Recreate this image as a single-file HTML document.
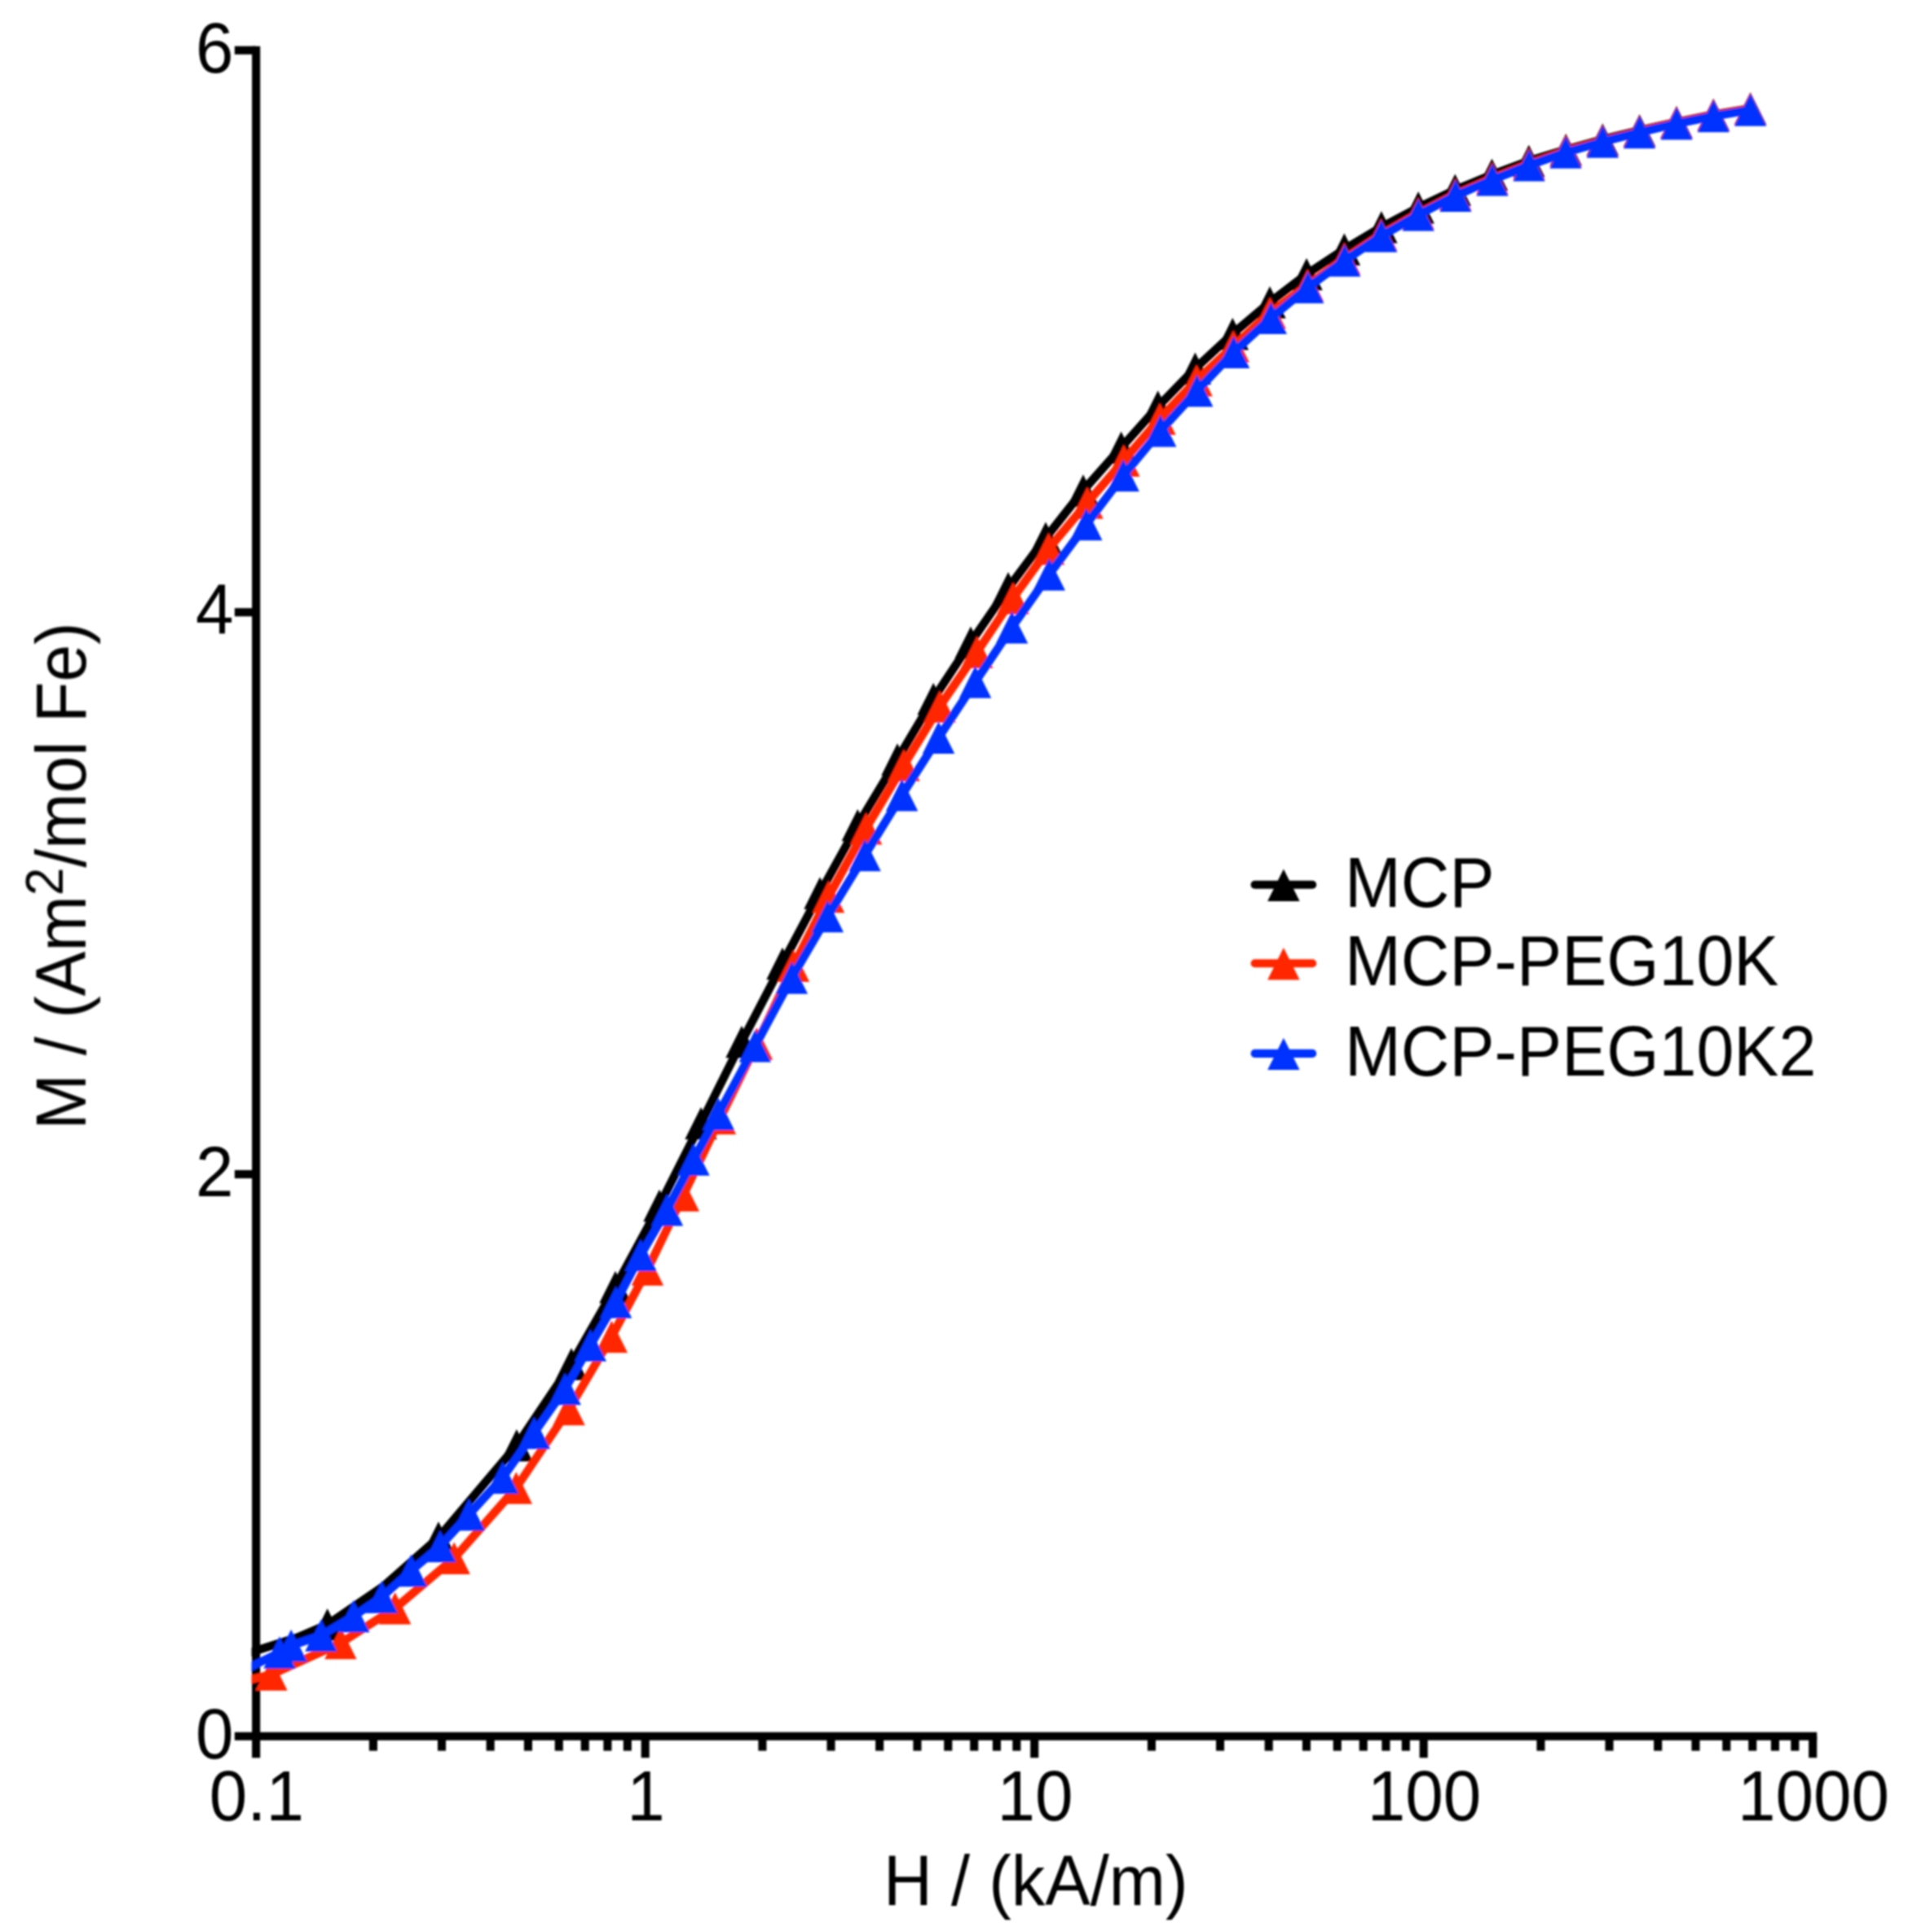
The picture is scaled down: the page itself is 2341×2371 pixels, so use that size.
<!DOCTYPE html>
<html lang="en"><head><meta charset="utf-8"><title>Magnetization curve</title>
<style>
html,body{margin:0;padding:0;background:#fff}
body{width:2341px;height:2371px;overflow:hidden}
svg{display:block}
text{font-family:"Liberation Sans",sans-serif;fill:#000}
</style></head><body>
<svg width="2341" height="2371" viewBox="0 0 2341 2371">
<defs><filter id="soft" x="0" y="0" width="2341" height="2371" filterUnits="userSpaceOnUse"><feGaussianBlur stdDeviation="0.85"/></filter><clipPath id="plot"><rect x="308.6" y="0" width="2100" height="2371"/></clipPath></defs>
<rect width="2341" height="2371" fill="#fff"/>
<g filter="url(#soft)">

<g stroke="#000" stroke-width="10.1" fill="none" stroke-linecap="butt">
<path d="M314.2,56.65V2157.2"/>
<path d="M287.9,2130.7H2229.25"/>
<path d="M287.9,1441.03H314.2"/>
<path d="M287.9,751.37H314.2"/>
<path d="M287.9,61.70H314.2"/>
<path d="M457.94,2130.7V2148.6"/>
<path d="M542.03,2130.7V2148.6"/>
<path d="M601.68,2130.7V2148.6"/>
<path d="M647.96,2130.7V2148.6"/>
<path d="M685.77,2130.7V2148.6"/>
<path d="M717.73,2130.7V2148.6"/>
<path d="M745.43,2130.7V2148.6"/>
<path d="M769.85,2130.7V2148.6"/>
<path d="M935.44,2130.7V2148.6"/>
<path d="M1019.53,2130.7V2148.6"/>
<path d="M1079.18,2130.7V2148.6"/>
<path d="M1125.46,2130.7V2148.6"/>
<path d="M1163.27,2130.7V2148.6"/>
<path d="M1195.23,2130.7V2148.6"/>
<path d="M1222.93,2130.7V2148.6"/>
<path d="M1247.35,2130.7V2148.6"/>
<path d="M1412.94,2130.7V2148.6"/>
<path d="M1497.03,2130.7V2148.6"/>
<path d="M1556.68,2130.7V2148.6"/>
<path d="M1602.96,2130.7V2148.6"/>
<path d="M1640.77,2130.7V2148.6"/>
<path d="M1672.73,2130.7V2148.6"/>
<path d="M1700.43,2130.7V2148.6"/>
<path d="M1724.85,2130.7V2148.6"/>
<path d="M1890.44,2130.7V2148.6"/>
<path d="M1974.53,2130.7V2148.6"/>
<path d="M2034.18,2130.7V2148.6"/>
<path d="M2080.46,2130.7V2148.6"/>
<path d="M2118.27,2130.7V2148.6"/>
<path d="M2150.23,2130.7V2148.6"/>
<path d="M2177.93,2130.7V2148.6"/>
<path d="M2202.35,2130.7V2148.6"/>
<path d="M791.70,2130.7V2157.2"/>
<path d="M1269.20,2130.7V2157.2"/>
<path d="M1746.70,2130.7V2157.2"/>
<path d="M2224.20,2130.7V2157.2"/>
</g>

<g clip-path="url(#plot)"><path d="M296.0,2031.5 L365.0,2009.5 L401.7,1993.7 L470.0,1947.0 L538.0,1887.0 L633.9,1773.8 L701.0,1674.0 L755.0,1579.5 L809.0,1479.5 L860.0,1378.5 L910.0,1278.5 L960.0,1182.5 L1006.0,1096.0 L1052.3,1012.6 L1101.0,932.0 L1145.2,857.6 L1191.0,788.5 L1237.0,721.8 L1283.0,660.1 L1329.0,602.0 L1375.6,549.3 L1420.7,499.0 L1466.4,452.2 L1512.3,409.7 L1558.0,371.0 L1603.1,336.5 L1649.4,306.0 L1694.9,278.7 L1740.2,254.7 L1785.3,233.1 L1830.5,214.4 L1875.8,197.5 L1921.2,183.6 L1966.3,171.1 L2011.6,160.0 L2057.0,149.8 L2102.3,140.6 L2147.6,133.0" fill="none" stroke="#000000" stroke-width="10.3" stroke-linejoin="round" stroke-linecap="butt"/></g>
<path d="M382.0,2013.4h39.4l-19.7,-39.4zM518.3,1906.7h39.4l-19.7,-39.4zM614.2,1793.5h39.4l-19.7,-39.4zM681.3,1693.7h39.4l-19.7,-39.4zM735.3,1599.2h39.4l-19.7,-39.4zM789.3,1499.2h39.4l-19.7,-39.4zM840.3,1398.2h39.4l-19.7,-39.4zM890.3,1298.2h39.4l-19.7,-39.4zM940.3,1202.2h39.4l-19.7,-39.4zM986.3,1115.7h39.4l-19.7,-39.4zM1032.6,1032.3h39.4l-19.7,-39.4zM1081.3,951.7h39.4l-19.7,-39.4zM1125.5,877.3h39.4l-19.7,-39.4zM1171.3,808.2h39.4l-19.7,-39.4zM1217.3,741.5h39.4l-19.7,-39.4zM1263.3,679.8h39.4l-19.7,-39.4zM1309.3,621.7h39.4l-19.7,-39.4zM1355.9,569.0h39.4l-19.7,-39.4zM1401.0,518.7h39.4l-19.7,-39.4zM1446.7,471.9h39.4l-19.7,-39.4zM1492.6,429.4h39.4l-19.7,-39.4zM1538.3,390.7h39.4l-19.7,-39.4zM1583.4,356.2h39.4l-19.7,-39.4zM1629.7,325.7h39.4l-19.7,-39.4zM1675.2,298.4h39.4l-19.7,-39.4zM1720.5,274.4h39.4l-19.7,-39.4zM1765.6,252.8h39.4l-19.7,-39.4zM1810.8,234.1h39.4l-19.7,-39.4zM1856.1,217.2h39.4l-19.7,-39.4zM1901.5,203.3h39.4l-19.7,-39.4zM1946.6,190.8h39.4l-19.7,-39.4zM1991.9,179.7h39.4l-19.7,-39.4zM2037.3,169.5h39.4l-19.7,-39.4zM2082.6,160.3h39.4l-19.7,-39.4zM2127.9,152.7h39.4l-19.7,-39.4z" fill="#000000"/>

<g clip-path="url(#plot)"><path d="M296.0,2064.0 L333.0,2055.0 L417.9,2016.5 L484.7,1973.7 L557.2,1912.3 L633.3,1826.0 L698.1,1729.5 L750.4,1640.5 L794.4,1558.0 L838.4,1467.0 L883.5,1372.5 L928.5,1281.0 L973.5,1185.4 L1016.5,1100.5 L1062.6,1016.7 L1109.0,939.0 L1153.0,867.0 L1198.7,800.3 L1243.0,734.0 L1286.6,673.5 L1334.0,617.0 L1378.8,565.3 L1423.0,514.0 L1468.1,466.9 L1513.2,425.0 L1558.2,384.1 L1604.3,350.0 L1649.5,317.4 L1694.5,287.8 L1740.0,261.8 L1785.6,238.4 L1830.8,218.8 L1875.9,201.0 L1921.0,185.1 L1966.1,172.7 L2011.3,161.1 L2056.8,150.3 L2102.1,141.1 L2147.4,133.5" fill="none" stroke="#ff2600" stroke-width="10.3" stroke-linejoin="round" stroke-linecap="butt"/></g>
<path d="M313.3,2074.7h39.4l-19.7,-39.4zM398.2,2036.2h39.4l-19.7,-39.4zM465.0,1993.4h39.4l-19.7,-39.4zM537.5,1932.0h39.4l-19.7,-39.4zM613.6,1845.7h39.4l-19.7,-39.4zM678.4,1749.2h39.4l-19.7,-39.4zM730.7,1660.2h39.4l-19.7,-39.4zM774.7,1577.7h39.4l-19.7,-39.4zM818.7,1486.7h39.4l-19.7,-39.4zM863.8,1392.2h39.4l-19.7,-39.4zM908.8,1300.7h39.4l-19.7,-39.4zM953.8,1205.1h39.4l-19.7,-39.4zM996.8,1120.2h39.4l-19.7,-39.4zM1042.9,1036.4h39.4l-19.7,-39.4zM1089.3,958.7h39.4l-19.7,-39.4zM1133.3,886.7h39.4l-19.7,-39.4zM1179.0,820.0h39.4l-19.7,-39.4zM1223.3,753.7h39.4l-19.7,-39.4zM1266.9,693.2h39.4l-19.7,-39.4zM1314.3,636.7h39.4l-19.7,-39.4zM1359.1,585.0h39.4l-19.7,-39.4zM1403.3,533.7h39.4l-19.7,-39.4zM1448.4,486.6h39.4l-19.7,-39.4zM1493.5,444.7h39.4l-19.7,-39.4zM1538.5,403.8h39.4l-19.7,-39.4zM1584.6,369.7h39.4l-19.7,-39.4zM1629.8,337.1h39.4l-19.7,-39.4zM1674.8,307.5h39.4l-19.7,-39.4zM1720.3,281.5h39.4l-19.7,-39.4zM1765.9,258.1h39.4l-19.7,-39.4zM1811.1,238.5h39.4l-19.7,-39.4zM1856.2,220.7h39.4l-19.7,-39.4zM1901.3,204.8h39.4l-19.7,-39.4zM1946.4,192.4h39.4l-19.7,-39.4zM1991.6,180.8h39.4l-19.7,-39.4zM2037.1,170.0h39.4l-19.7,-39.4zM2082.4,160.8h39.4l-19.7,-39.4zM2127.7,153.2h39.4l-19.7,-39.4z" fill="#ff2600"/>

<g clip-path="url(#plot)"><path d="M296.0,2051.5 L343.0,2028.0 L357.2,2019.5 L394.0,2007.0 L433.8,1983.5 L468.4,1960.0 L504.4,1927.5 L540.0,1897.5 L575.3,1858.7 L616.7,1813.5 L655.3,1758.5 L693.2,1704.5 L724.4,1651.0 L755.6,1598.0 L786.0,1540.3 L818.5,1484.7 L851.0,1423.0 L881.4,1367.3 L926.4,1283.7 L971.4,1200.0 L1015.4,1124.6 L1061.1,1049.6 L1106.6,975.8 L1151.6,905.2 L1196.6,837.0 L1241.6,770.0 L1287.3,705.0 L1332.8,643.5 L1378.2,583.5 L1423.7,528.7 L1468.7,479.5 L1513.6,432.3 L1559.3,390.4 L1604.8,352.6 L1649.8,319.7 L1694.8,289.8 L1740.2,263.7 L1785.9,240.2 L1831.0,220.7 L1876.1,202.9 L1921.1,187.1 L1966.3,174.1 L2011.5,162.5 L2057.0,151.8 L2102.3,142.6 L2147.6,135.0" fill="none" stroke="#0433ff" stroke-width="10.3" stroke-linejoin="round" stroke-linecap="butt"/></g>
<path d="M323.3,2047.7h39.4l-19.7,-39.4zM337.5,2039.2h39.4l-19.7,-39.4zM374.3,2026.7h39.4l-19.7,-39.4zM414.1,2003.2h39.4l-19.7,-39.4zM448.7,1979.7h39.4l-19.7,-39.4zM484.7,1947.2h39.4l-19.7,-39.4zM520.3,1917.2h39.4l-19.7,-39.4zM555.6,1878.4h39.4l-19.7,-39.4zM597.0,1833.2h39.4l-19.7,-39.4zM635.6,1778.2h39.4l-19.7,-39.4zM673.5,1724.2h39.4l-19.7,-39.4zM704.7,1670.7h39.4l-19.7,-39.4zM735.9,1617.7h39.4l-19.7,-39.4zM766.3,1560.0h39.4l-19.7,-39.4zM798.8,1504.4h39.4l-19.7,-39.4zM831.3,1442.7h39.4l-19.7,-39.4zM861.7,1387.0h39.4l-19.7,-39.4zM906.7,1303.4h39.4l-19.7,-39.4zM951.7,1219.7h39.4l-19.7,-39.4zM995.7,1144.3h39.4l-19.7,-39.4zM1041.4,1069.3h39.4l-19.7,-39.4zM1086.9,995.5h39.4l-19.7,-39.4zM1131.9,924.9h39.4l-19.7,-39.4zM1176.9,856.7h39.4l-19.7,-39.4zM1221.9,789.7h39.4l-19.7,-39.4zM1267.6,724.7h39.4l-19.7,-39.4zM1313.1,663.2h39.4l-19.7,-39.4zM1358.5,603.2h39.4l-19.7,-39.4zM1404.0,548.4h39.4l-19.7,-39.4zM1449.0,499.2h39.4l-19.7,-39.4zM1493.9,452.0h39.4l-19.7,-39.4zM1539.6,410.1h39.4l-19.7,-39.4zM1585.1,372.3h39.4l-19.7,-39.4zM1630.1,339.4h39.4l-19.7,-39.4zM1675.1,309.5h39.4l-19.7,-39.4zM1720.5,283.4h39.4l-19.7,-39.4zM1766.2,259.9h39.4l-19.7,-39.4zM1811.3,240.4h39.4l-19.7,-39.4zM1856.4,222.6h39.4l-19.7,-39.4zM1901.4,206.8h39.4l-19.7,-39.4zM1946.6,193.8h39.4l-19.7,-39.4zM1991.8,182.2h39.4l-19.7,-39.4zM2037.3,171.5h39.4l-19.7,-39.4zM2082.6,162.3h39.4l-19.7,-39.4zM2127.9,154.7h39.4l-19.7,-39.4z" fill="#0433ff"/>

<text transform="translate(315.0,2233.8) scale(1.0,1.05)" font-size="83.7" text-anchor="middle">0.1</text>
<text transform="translate(792.5,2233.8) scale(1.0,1.05)" font-size="83.7" text-anchor="middle">1</text>
<text transform="translate(1270.0,2233.8) scale(1.0,1.05)" font-size="83.7" text-anchor="middle">10</text>
<text transform="translate(1747.5,2233.8) scale(1.0,1.05)" font-size="83.7" text-anchor="middle">100</text>
<text transform="translate(2225.0,2233.8) scale(1.0,1.05)" font-size="83.7" text-anchor="middle">1000</text>
<text transform="translate(286.6,2157.6) scale(1.0,1.05)" font-size="83.7" text-anchor="end">0</text>
<text transform="translate(286.6,1467.9) scale(1.0,1.05)" font-size="83.7" text-anchor="end">2</text>
<text transform="translate(286.6,778.3) scale(1.0,1.05)" font-size="83.7" text-anchor="end">4</text>
<text transform="translate(286.6,88.6) scale(1.0,1.05)" font-size="83.7" text-anchor="end">6</text>
<text transform="translate(1270.8,2337.6) scale(1.0,1.05)" font-size="83.0" text-anchor="middle">H / (kA/m)</text>
<text transform="translate(105.2,1386.4) rotate(-90) scale(1.0,1.05)" font-size="82.1" text-anchor="start">M / (Am<tspan font-size="62" dy="-27">2</tspan><tspan dy="27">/mol Fe)</tspan></text>
<path d="M1539.6,1085.8H1610.2" stroke="#000000" stroke-width="10.1" stroke-linecap="round" fill="none"/>
<path d="M1555.2,1106.0h39.4l-19.7,-39.4z" fill="#000000"/>
<text transform="translate(1650.0,1112.6) scale(1.0,1.05)" font-size="82.6" text-anchor="start">MCP</text>
<path d="M1539.6,1182.2H1610.2" stroke="#ff2600" stroke-width="10.1" stroke-linecap="round" fill="none"/>
<path d="M1555.2,1202.4h39.4l-19.7,-39.4z" fill="#ff2600"/>
<text transform="translate(1650.0,1209.0) scale(1.0,1.05)" font-size="82.6" text-anchor="start">MCP-PEG10K</text>
<path d="M1539.6,1292.9H1610.2" stroke="#0433ff" stroke-width="10.1" stroke-linecap="round" fill="none"/>
<path d="M1555.2,1313.1h39.4l-19.7,-39.4z" fill="#0433ff"/>
<text transform="translate(1650.0,1319.7) scale(1.0,1.05)" font-size="82.6" text-anchor="start">MCP-PEG10K2</text>
</g></svg></body></html>
